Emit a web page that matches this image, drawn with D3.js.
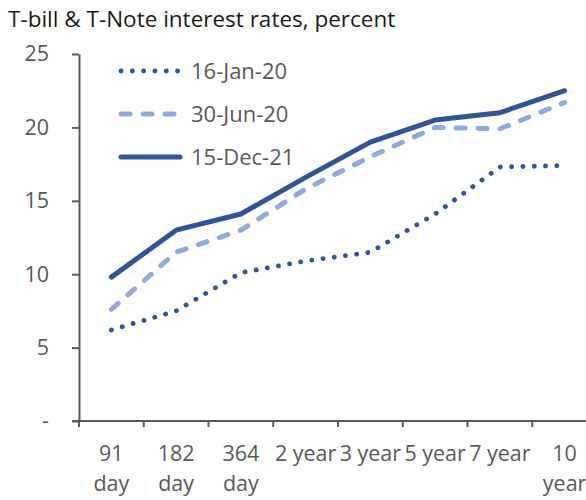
<!DOCTYPE html>
<html>
<head>
<meta charset="utf-8">
<script src="https://cdn.jsdelivr.net/npm/d3@7"></script>
<style>
  html, body { margin: 0; padding: 0; background: #fff; }
  svg { display: block; font-family: "Open Sans", "Noto Sans", sans-serif; }
</style>
</head>
<body>
<svg id="chart" width="586" height="500"></svg>
<script>
// Maturities along the x axis
const categories = ["91 day", "182 day", "364 day", "2 year", "3 year", "5 year", "7 year", "10 year"];
// Tick label lines as they wrap under each band
const xTickLabels = [["91", "day"], ["182", "day"], ["364", "day"], ["2 year"], ["3 year"], ["5 year"], ["7 year"], ["10", "year"]];

// Interest rates (percent) per maturity, one array per date
const jan20 = [6.2, 7.5, 10.1, 10.9, 11.5, 14.1, 17.3, 17.4];
const jun20 = [7.6, 11.5, 13.0, 15.8, 18.0, 20.0, 19.9, 21.7];
const dec21 = [9.8, 13.0, 14.1, 16.6, 19.0, 20.5, 21.0, 22.5];

const seriesNames = ["16-Jan-20", "30-Jun-20", "15-Dec-21"];
const yTicks = [0, 5, 10, 15, 20, 25];

const series = [
  { name: seriesNames[0], values: jan20, color: "#2F5597", width: 4.8, dash: "0.1,11.2" },
  { name: seriesNames[1], values: jun20, color: "#8FAADC", width: 5,   dash: "9,13" },
  { name: seriesNames[2], values: dec21, color: "#2F5597", width: 5,   dash: null }
];

const svg = d3.select("#chart");
const axisColor = "#595959";
const textColor = "#595959";
const labelSize = 21.5;

const x = d3.scaleBand().domain(categories).range([79, 597]).paddingInner(0).paddingOuter(0);
const y = d3.scaleLinear().domain([0, 25]).range([421, 54]);

// Title
svg.append("text")
  .attr("x", 8).attr("y", 27)
  .attr("font-size", 22.5)
  .attr("fill", "#1a1a1a")
  .text("T-bill & T-Note interest rates, percent");

// Y axis
const yAxis = svg.append("g")
  .attr("transform", "translate(79,0)")
  .call(d3.axisLeft(y).tickValues(yTicks).tickSize(7).tickSizeOuter(0).tickPadding(23)
    .tickFormat(d => d === 0 ? "-" : d));
yAxis.select(".domain").attr("stroke", axisColor).attr("stroke-width", 2);
yAxis.selectAll(".tick line").attr("stroke", axisColor).attr("stroke-width", 2);
yAxis.selectAll(".tick text")
  .attr("fill", textColor).attr("font-size", labelSize)
  .attr("font-family", "'Open Sans', 'Noto Sans', sans-serif");

// X axis line with ticks on the band boundaries
const xAxis = svg.append("g").attr("class", "x-axis");
xAxis.append("line")
  .attr("x1", 72).attr("x2", 600)
  .attr("y1", y(0)).attr("y2", y(0))
  .attr("stroke", axisColor).attr("stroke-width", 2);
xAxis.selectAll("line.tick")
  .data(categories)
  .join("line")
  .attr("class", "tick")
  .attr("x1", d => x(d)).attr("x2", d => x(d))
  .attr("y1", y(0)).attr("y2", y(0) + 6)
  .attr("stroke", axisColor).attr("stroke-width", 2);

const labels = xAxis.selectAll("text")
  .data(categories)
  .join("text")
  .attr("text-anchor", "middle")
  .attr("font-size", labelSize)
  .attr("fill", textColor)
  .attr("x", d => x(d) + x.bandwidth() / 2)
  .attr("y", 461);
labels.each(function (d, i) {
  d3.select(this).selectAll("tspan")
    .data(xTickLabels[i])
    .join("tspan")
    .attr("x", x(d) + x.bandwidth() / 2)
    .attr("dy", (t, j) => j === 0 ? 0 : 30)
    .text(t => t);
});

// Series lines
const line = d3.line()
  .x((d, i) => x(categories[i]) + x.bandwidth() / 2)
  .y(d => y(d));

svg.append("g").selectAll("path")
  .data(series)
  .join("path")
  .attr("d", s => line(s.values))
  .attr("fill", "none")
  .attr("stroke", s => s.color)
  .attr("stroke-width", s => s.width)
  .attr("stroke-linecap", "round")
  .attr("stroke-linejoin", "round")
  .attr("stroke-dasharray", s => s.dash);

// Legend
const legend = svg.append("g").selectAll("g")
  .data(series)
  .join("g")
  .attr("transform", (s, i) => `translate(0,${71 + i * 43})`);
legend.append("line")
  .attr("x1", 121).attr("x2", 180)
  .attr("stroke", s => s.color)
  .attr("stroke-width", s => s.width)
  .attr("stroke-linecap", "round")
  .attr("stroke-dasharray", s => s.dash);
legend.append("text")
  .attr("x", 191).attr("dy", "0.35em")
  .attr("font-size", 22)
  .attr("fill", textColor)
  .text(s => s.name);
</script>
</body>
</html>
